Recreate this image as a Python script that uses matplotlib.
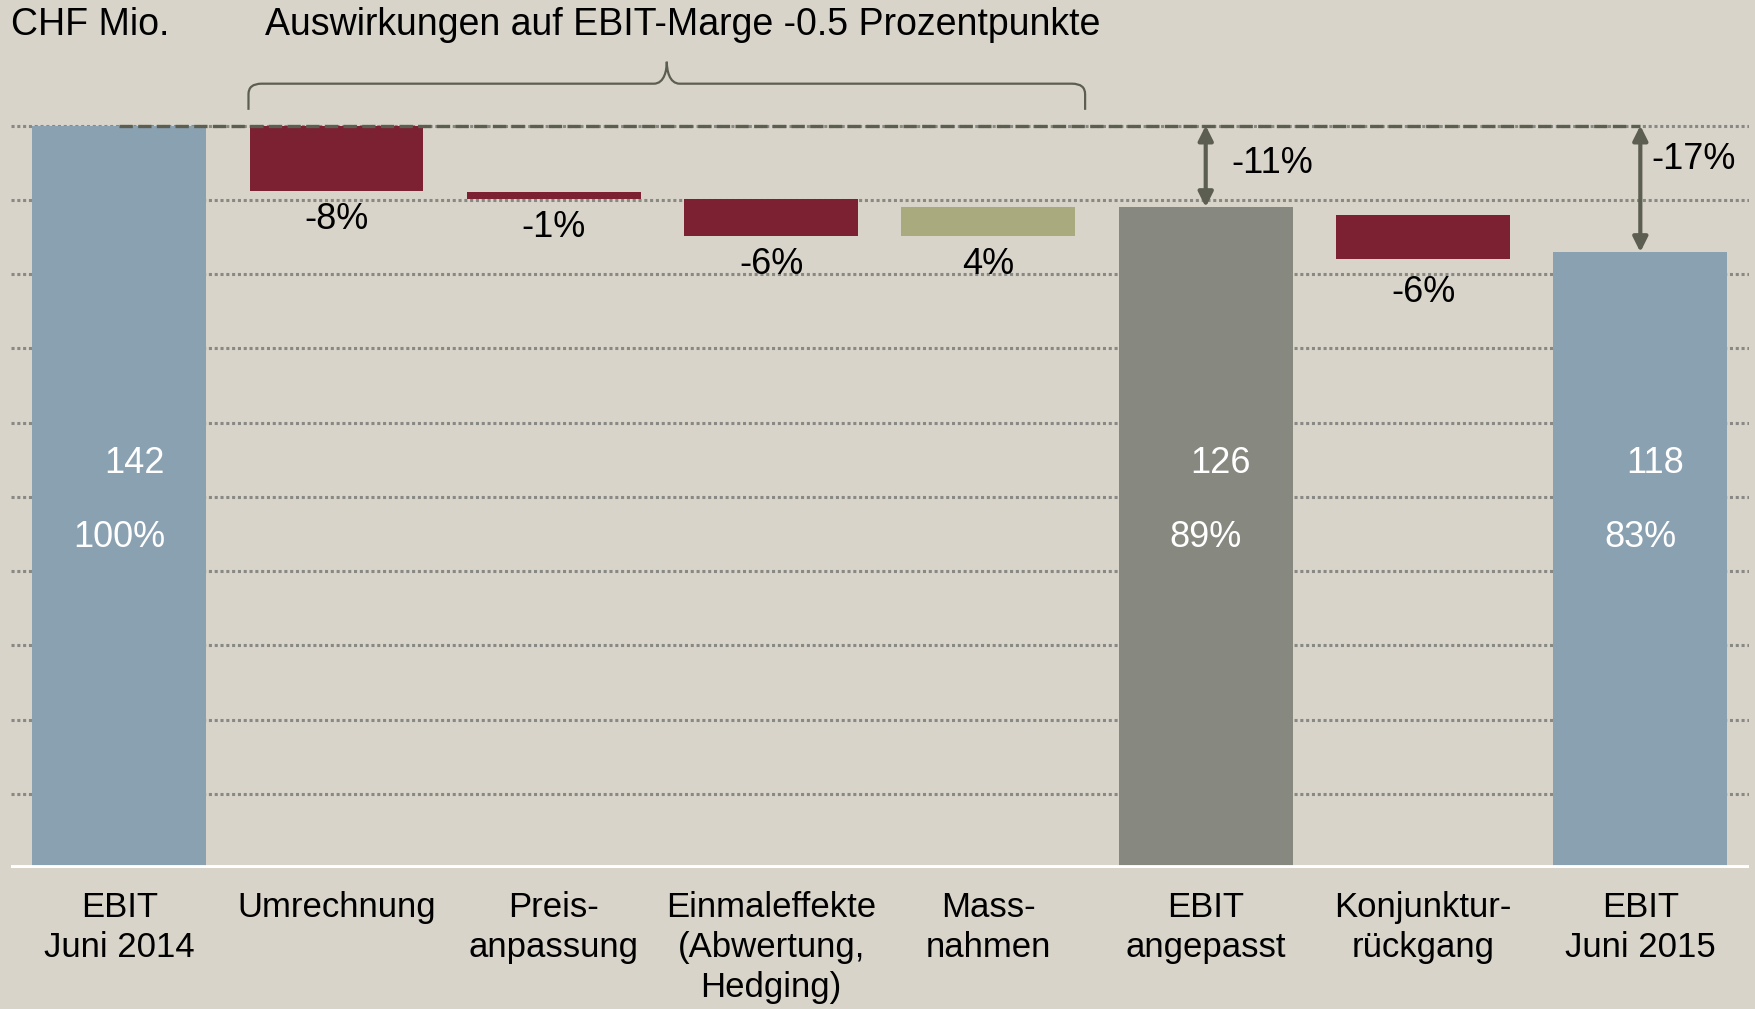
import matplotlib.pyplot as plt
from matplotlib.path import Path
from matplotlib.patches import PathPatch

plt.rcParams['font.family'] = ['Liberation Sans', 'DejaVu Sans']

# Daten (CHF Mio.)
categories = ['EBIT\nJuni 2014', 'Umrechnung', 'Preis-\nanpassung',
              'Einmaleffekte\n(Abwertung,\nHedging)', 'Mass-\nnahmen',
              'EBIT\nangepasst', 'Konjunktur-\nrückgang', 'EBIT\nJuni 2015']
bar_bottom = [0, 129.4, 127.9, 120.8, 120.8, 0, 116.5, 0]
bar_top = [142, 142, 129.2, 127.9, 126.4, 126.4, 124.9, 117.8]
kinds = ['start', 'neg', 'neg', 'neg', 'pos', 'sub', 'neg', 'end']
pct_labels = ['', '-8%', '-1%', '-6%', '4%', '', '-6%', '']
total_values = ['142', '', '', '', '', '126', '', '118']
total_pcts = ['100%', '', '', '', '', '89%', '', '83%']
diff_labels = {5: '-11%', 7: '-17%'}
base_value = 142

colors = {'start': '#8aa1b2', 'end': '#8aa1b2', 'sub': '#878880',
          'neg': '#7b2131', 'pos': '#a9ab7e'}
bg = '#d8d4c9'
dark = '#5c5e51'

fig = plt.figure(figsize=(17.56, 10.09), dpi=100, facecolor=bg)
ax = fig.add_axes([0.006, 0.1395, 0.99, 0.8605])
ax.set_facecolor(bg)
ax.set_xlim(-0.5, 7.5)
ax.set_ylim(0, 166)
for s in ax.spines.values():
    s.set_visible(False)
ax.set_xticks([])
ax.set_yticks([])

# dotted grid every 10 %
for k in range(1, 11):
    ax.axhline(base_value * k / 10, color='#888884', lw=2.2,
               linestyle=(0, (1, 0.9)), zorder=1)

x = list(range(len(categories)))
heights = [t - b for t, b in zip(bar_top, bar_bottom)]
ax.bar(x, heights, bottom=bar_bottom, width=0.8,
       color=[colors[k] for k in kinds], zorder=2)

ax.axhline(0, color='white', lw=4.2, zorder=3)

# dashed reference line at start value
ax.plot([0, 7], [base_value, base_value], color=dark, lw=2.4,
        linestyle=(0, (4, 1.6)), zorder=4)

# labels
for i in x:
    if pct_labels[i]:
        off = -24 if i == 6 else -20
        ax.annotate(pct_labels[i], (i, bar_bottom[i]), xytext=(0, off),
                    textcoords='offset points', ha='center', va='center',
                    fontsize=26, color='black')
    if total_values[i]:
        ax.text(i + 0.07, 0.545 * base_value, total_values[i], ha='center',
                va='center', fontsize=26, color='white', zorder=5)
        ax.text(i, 0.445 * base_value, total_pcts[i], ha='center',
                va='center', fontsize=26, color='white', zorder=5)
    ax.text(i, -4.3, categories[i], ha='center', va='top', fontsize=25,
            linespacing=1.27, clip_on=False)

# difference arrows
for i, lab in diff_labels.items():
    ax.annotate('', xy=(i, bar_top[i]), xytext=(i, base_value),
                arrowprops=dict(arrowstyle='<|-|>', color=dark, lw=3,
                                mutation_scale=22, shrinkA=0, shrinkB=0),
                zorder=6)
    off = 0.12 if i == 5 else 0.05
    ax.text(i + off, base_value - 7.3 if i == 5 else base_value - 6.5, lab,
            ha='left', va='center', fontsize=26)

# curly brace over the adjustment bars
x0, x1 = 0.595, 4.445
xm = (x0 + x1) / 2
yb, yh, yp = 145, 150, 154.2
r = 0.06
verts = [(x0, yb), (x0, yh - 2), (x0, yh), (x0 + r, yh),
         (xm - r, yh), (xm - 0.01, yh), (xm, yp - 1.5), (xm, yp),
         (xm, yp - 1.5), (xm + 0.01, yh), (xm + r, yh),
         (x1 - r, yh), (x1, yh), (x1, yh - 2), (x1, yb)]
codes = [Path.MOVETO, Path.LINETO, Path.CURVE3, Path.CURVE3,
         Path.LINETO, Path.CURVE4, Path.CURVE4, Path.CURVE4,
         Path.CURVE4, Path.CURVE4, Path.CURVE4,
         Path.LINETO, Path.CURVE3, Path.CURVE3, Path.LINETO]
ax.add_patch(PathPatch(Path(verts, codes), fill=False, edgecolor=dark,
                       lw=1.6, clip_on=False))

fig.text(0.006, 0.975, 'CHF Mio.', ha='left', va='center', fontsize=27)
fig.text(0.151, 0.975, 'Auswirkungen auf EBIT-Marge -0.5 Prozentpunkte',
         ha='left', va='center', fontsize=27)

fig.savefig('out.png', dpi=100, facecolor=bg)
